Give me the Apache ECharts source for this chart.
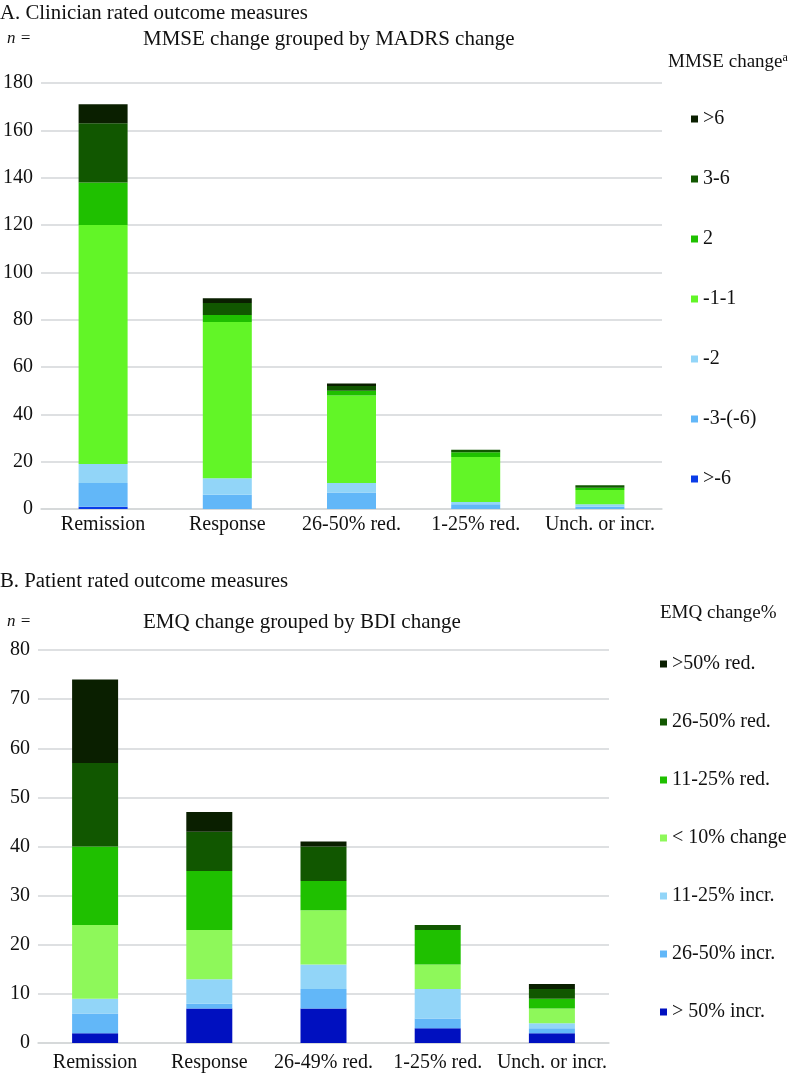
<!DOCTYPE html>
<html><head><meta charset="utf-8">
<script src="https://cdn.jsdelivr.net/npm/echarts@6/dist/echarts.min.js"></script>
<style>html,body{margin:0;padding:0;background:#fff}#c{width:812px;height:1073px}</style>
</head><body><div id="c"></div>
<script>
// Chart A data (MMSE change grouped by MADRS change)
const catsA = ['Remission', 'Response', '26-50% red.', '1-25% red.', 'Unch. or incr.'];
const namesA = ['>-6', '-3-(-6)', '-2', '-1-1', '2', '3-6', '>6'];
const colorsA = ['#0a3ce8', '#62b7f8', '#92d5f8', '#62f527', '#1fc000', '#115700', '#0a1f00'];
const A_gt_m6   = [1, 0, 0, 0, 0];
const A_m3_m6   = [10, 6, 7, 2, 1];
const A_m2      = [8, 7, 4, 1, 1];
const A_m1_1    = [101, 66, 37, 19, 6];
const A_2       = [18, 3, 2, 2, 1];
const A_3_6     = [25, 5, 2, 1, 1];
const A_gt6     = [8, 2, 1, 0, 0];
const valuesA = [A_gt_m6, A_m3_m6, A_m2, A_m1_1, A_2, A_3_6, A_gt6];
const ticksA = {min: 0, max: 180, interval: 20};

// Chart B data (EMQ change grouped by BDI change)
const catsB = ['Remission', 'Response', '26-49% red.', '1-25% red.', 'Unch. or incr.'];
const namesB = ['> 50% incr.', '26-50% incr.', '11-25% incr.', '< 10% change', '11-25% red.', '26-50% red.', '>50% red.'];
const colorsB = ['#0010c0', '#62b7f8', '#92d5f8', '#8ef85a', '#1fc000', '#115700', '#0a1f00'];
const B_gt50i   = [2, 7, 7, 3, 2];
const B_26_50i  = [4, 1, 4, 2, 1];
const B_11_25i  = [3, 5, 5, 6, 1];
const B_lt10    = [15, 10, 11, 5, 3];
const B_11_25r  = [16, 12, 6, 7, 2];
const B_26_50r  = [17, 8, 7, 1, 2];
const B_gt50r   = [17, 4, 1, 0, 1];
const valuesB = [B_gt50i, B_26_50i, B_11_25i, B_lt10, B_11_25r, B_26_50r, B_gt50r];
const ticksB = {min: 0, max: 80, interval: 10};

const FONT = '"Liberation Serif", "Times New Roman", serif';
const TXT = '#111';
const GRID = '#d3d6d8';
const FS = 20;

const chart = echarts.init(document.getElementById('c'), null, {renderer: 'canvas'});

function mkSeries(names, vals, colors, idx, stack, bw) {
  return names.map((n, i) => ({
    name: n, type: 'bar', stack: stack, xAxisIndex: idx, yAxisIndex: idx,
    data: vals[i], barWidth: bw,
    itemStyle: {color: colors[i]},
    emphasis: {disabled: true}
  }));
}

function xAx(cats, idx, margin) {
  return {
    type: 'category', data: cats, gridIndex: idx,
    axisLine: {lineStyle: {color: GRID, width: 1.5}},
    axisTick: {show: false},
    axisLabel: {color: TXT, fontFamily: FONT, fontSize: FS, margin: margin, interval: 0}
  };
}
function yAx(t, idx) {
  return {
    type: 'value', gridIndex: idx, min: t.min, max: t.max, interval: t.interval,
    axisLine: {show: false}, axisTick: {show: false},
    splitLine: {lineStyle: {color: GRID, width: 1.5}},
    axisLabel: {color: TXT, fontFamily: FONT, fontSize: FS, margin: 8}
  };
}
function ttl(text, left, top, size, extra) {
  return Object.assign({text: text, left: left, top: top, padding: 0,
    textStyle: Object.assign({fontFamily: FONT, fontSize: size, fontWeight: 'normal', color: TXT}, extra || {})});
}

const option = {
  animation: false,
  backgroundColor: '#fff',
  title: [
    ttl('A. Clinician rated outcome measures', 0, 3, 20.8),
    ttl('n =', 7, 30, 17, {fontStyle: 'italic'}),
    ttl('MMSE change grouped by MADRS change', 143, 29, 21),
    {text: '{m|MMSE change}{s|a}', left: 668, top: 52, padding: 0, textStyle: {rich: {
      m: {fontFamily: FONT, fontSize: 19, fontWeight: 'normal', color: TXT},
      s: {fontFamily: FONT, fontSize: 12, fontWeight: 'normal', color: TXT, verticalAlign: 'top', padding: [0, 0, 8, 0]}}}},
    ttl('B. Patient rated outcome measures', 0, 571, 20.8),
    ttl('n =', 7, 613, 17, {fontStyle: 'italic'}),
    ttl('EMQ change grouped by BDI change', 143, 612, 21),
    ttl('EMQ change%', 660, 604, 19)
  ],
  legend: [
    {data: namesA.slice().reverse(), orient: 'vertical', left: 691, top: 107, itemGap: 36,
     itemWidth: 7, itemHeight: 7, icon: 'rect', selectedMode: false, padding: 0,
     textStyle: {fontFamily: FONT, fontSize: FS, color: TXT, lineHeight: 24}},
    {data: namesB.slice().reverse(), orient: 'vertical', left: 660, top: 652, itemGap: 34,
     itemWidth: 7, itemHeight: 7, icon: 'rect', selectedMode: false, padding: 0,
     textStyle: {fontFamily: FONT, fontSize: FS, color: TXT, lineHeight: 24}}
  ],
  grid: [
    {left: 38, right: 150, top: 83, bottom: 564, containLabel: false},
    {left: 38, right: 203, top: 650, bottom: 30, containLabel: false}
  ],
  xAxis: [xAx(catsA, 0, 6), xAx(catsB, 1, 10)],
  yAxis: [yAx(ticksA, 0), yAx(ticksB, 1)],
  series: [].concat(
    mkSeries(namesA, valuesA, colorsA, 0, 'A', 49),
    mkSeries(namesB, valuesB, colorsB, 1, 'B', 46)
  )
};
chart.setOption(option);
</script></body></html>
